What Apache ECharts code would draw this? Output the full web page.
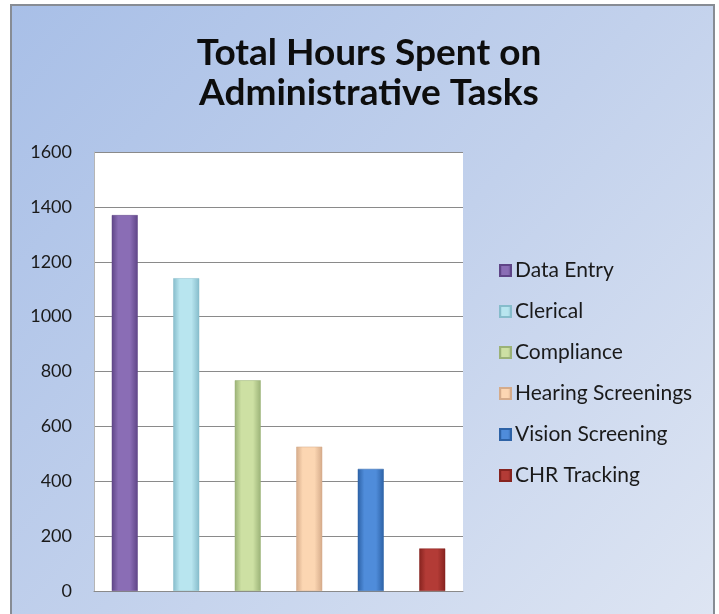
<!DOCTYPE html>
<html>
<head>
<meta charset="utf-8">
<script src="https://cdn.jsdelivr.net/npm/echarts@6/dist/echarts.min.js"></script>
<style>
html,body{margin:0;padding:0;background:#fff;}
#chart{width:719px;height:614px;}
</style>
</head>
<body>
<div id="chart"></div>
<script>
const categories = ['Data Entry', 'Clerical', 'Compliance', 'Hearing Screenings', 'Vision Screening', 'CHR Tracking'];
const hours = [1370, 1140, 768, 526, 445, 155];
const yTicks = [0, 200, 400, 600, 800, 1000, 1200, 1400, 1600];

const centerColors = ['#8a6db5', '#b8e5ef', '#cde0a3', '#fcd6b2', '#4f8cda', '#b33b36'];
const edgeColors   = ['#5f4587', '#86bccb', '#9bb277', '#d5ab8a', '#2d62a6', '#86231f'];

function barGradient(i) {
  return new echarts.graphic.LinearGradient(0, 0, 1, 0, [
    {offset: 0, color: edgeColors[i]},
    {offset: 0.25, color: centerColors[i]},
    {offset: 0.7, color: centerColors[i]},
    {offset: 1, color: edgeColors[i]}
  ]);
}

const series = categories.map((name, i) => ({
  name: name,
  type: 'bar',
  barWidth: 26,
  barGap: '-100%',
  data: hours.map((v, j) => (j === i ? v : '-')),
  itemStyle: {color: barGradient(i), borderColor: edgeColors[i], borderWidth: 0.5},
  emphasis: {disabled: true}
}));

const chart = echarts.init(document.getElementById('chart'), null, {renderer: 'canvas'});
chart.setOption({
  animation: false,
  backgroundColor: '#ffffff',
  graphic: [{
    type: 'rect',
    z: -10,
    shape: {x: 11, y: 5, width: 703, height: 640},
    style: {
      fill: new echarts.graphic.LinearGradient(0, 0, 1, 1, [
        {offset: 0, color: '#a8bfe7'},
        {offset: 0.5, color: '#c2d1ec'},
        {offset: 1, color: '#dfe6f3'}
      ]),
      stroke: '#878c94',
      lineWidth: 2
    }
  }],
  title: {
    text: 'Total Hours Spent on\nAdministrative Tasks',
    left: 364,
    textAlign: 'center',
    top: 28,
    textStyle: {
      fontFamily: 'Lato',
      fontWeight: 'bold',
      fontSize: 37,
      lineHeight: 40,
      color: '#0d0d0d'
    }
  },
  legend: {
    orient: 'vertical',
    left: 494,
    top: 255,
    itemWidth: 11,
    itemHeight: 11,
    itemGap: 20,
    icon: 'rect',
    data: categories,
    textStyle: {fontFamily: 'Lato', fontSize: 21, lineHeight: 20, color: '#1a1a1a', padding: [0, 0, 0, -1]}
  },
  grid: {
    left: 94, top: 152, right: 256, bottom: 23,
    show: true, backgroundColor: '#ffffff', borderWidth: 0
  },
  xAxis: {
    type: 'category',
    data: categories,
    axisLabel: {show: false},
    axisTick: {show: false},
    axisLine: {lineStyle: {color: '#8a8a8a', width: 1}}
  },
  yAxis: {
    type: 'value',
    min: yTicks[0],
    max: yTicks[yTicks.length - 1],
    interval: 200,
    axisLine: {show: true, lineStyle: {color: '#b5b5b5'}},
    axisTick: {show: false},
    axisLabel: {fontFamily: 'Lato', fontSize: 18, color: '#1a1a1a', margin: 22, formatter: v => String(v)},
    splitLine: {lineStyle: {color: '#8a8a8a', width: 1}}
  },
  series: series
});
</script>
</body>
</html>
